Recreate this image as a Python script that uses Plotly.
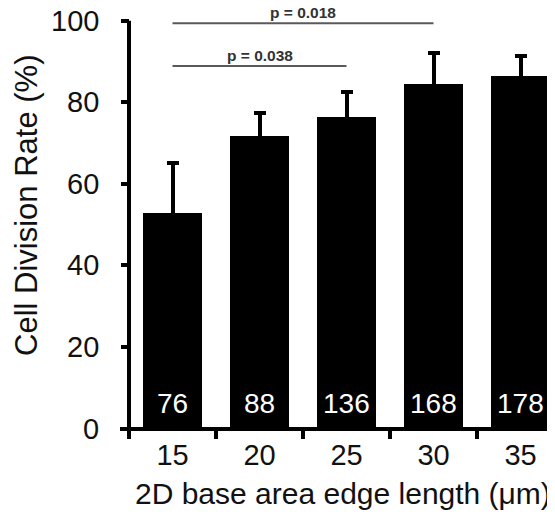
import plotly.graph_objects as go

categories = ["15", "20", "25", "30", "35"]
rates = [52.9, 71.7, 76.3, 84.4, 86.5]
errors = [12.1, 5.7, 6.1, 7.6, 4.9]
counts = ["76", "88", "136", "168", "178"]
y_ticks = [0, 20, 40, 60, 80, 100]

# significance comparisons: (from index, to index, line level, label)
sig_from = [0, 0, 0]
sig_to = [2, 3, 4]
sig_level = [88.9, 99.4, 104.85]
sig_label = ["p = 0.038", "p = 0.018", ""]

x_title = "2D base area edge length (μm)"
y_title = "Cell Division Rate (%)"

FONT = "Liberation Sans, Arial, sans-serif"
W, H = 547, 507          # page body has an 8px margin
ml, mr, mt, mb = 112, 0, 0, 78
plot_w = W - ml - mr
plot_h = H - mt - mb
px_per_cat = 87.0
px_per_unit = 4.078
yaxis_px = 9.0      # y axis offset from plot left
xaxis_px = 8.5      # x axis offset from plot bottom
ylabel_right = 92   # right edge of y tick labels (px from figure left)

x0 = -0.5 - yaxis_px / px_per_cat
x1 = x0 + plot_w / px_per_cat
y0 = -xaxis_px / px_per_unit
y1 = y0 + plot_h / px_per_unit

fig = go.Figure()
fig.add_trace(go.Bar(
    x=categories, y=rates, width=0.667,
    marker=dict(color="#000000", line=dict(width=0)),
    error_y=dict(type="data", array=errors, symmetric=True,
                 color="#000000", thickness=4, width=6),
    showlegend=False,
))

for i, c in enumerate(counts):
    fig.add_annotation(x=i, y=0, text=c, showarrow=False, yanchor="bottom",
                       yshift=8, font=dict(family=FONT, size=28, color="#ffffff"))

for a, b, lvl, lab in zip(sig_from, sig_to, sig_level, sig_label):
    fig.add_shape(type="line", xref="x", yref="y", x0=a, x1=b, y0=lvl, y1=lvl,
                  line=dict(color="#5a5a5a", width=2))
    if lab:
        fig.add_annotation(x=(a + b) / 2, y=lvl, text="<b>" + lab + "</b>",
                           showarrow=False, yanchor="bottom", yshift=1,
                           borderpad=0,
                           font=dict(family=FONT, size=15.5, color="#333333"))

# y axis spine (from 0 up to the top tick)
fig.add_shape(type="line", xref="x", yref="y", x0=-0.5, x1=-0.5,
              y0=y_ticks[0], y1=y_ticks[-1], layer="above",
              line=dict(color="#000000", width=4))

# y tick labels
for v in y_ticks:
    fig.add_annotation(xref="paper", yref="y", x=(ylabel_right - ml) / plot_w,
                       y=v, text=str(v), showarrow=False, xanchor="right",
                       yanchor="middle", borderpad=0,
                       font=dict(family=FONT, size=29, color="#111111"))

# axis titles
fig.add_annotation(xref="paper", yref="paper", x=(18 - ml) / plot_w,
                   y=(plot_h - 198) / plot_h, text=y_title, textangle=-90,
                   showarrow=False, xanchor="center", yanchor="middle",
                   font=dict(family=FONT, size=31, color="#111111"))
fig.add_annotation(xref="paper", yref="paper", x=(335 - ml) / plot_w,
                   y=(plot_h - 485) / plot_h, text=x_title,
                   showarrow=False, xanchor="center", yanchor="middle",
                   font=dict(family=FONT, size=30, color="#111111"))

fig.update_layout(
    width=W, height=H,
    margin=dict(l=ml, r=mr, t=mt, b=mb, pad=0),
    paper_bgcolor="white", plot_bgcolor="white",
    font=dict(family=FONT, size=29, color="#111111"),
    bargap=0,
    xaxis=dict(
        type="category", range=[x0, x1], anchor="free",
        position=xaxis_px / plot_h,
        showline=True, linecolor="#000000", linewidth=4,
        ticks="outside", tickson="boundaries", ticklen=8, tickwidth=4,
        tickcolor="#000000", showgrid=False, zeroline=False,
        tickfont=dict(family=FONT, size=29, color="#111111"),
    ),
    yaxis=dict(
        range=[y0, y1], anchor="free", position=yaxis_px / plot_w,
        tickvals=y_ticks, showticklabels=False,
        showline=False,
        ticks="outside", ticklen=8, tickwidth=4, tickcolor="#000000",
        showgrid=False, zeroline=False,
    ),
)

fig.write_html("out.html")
